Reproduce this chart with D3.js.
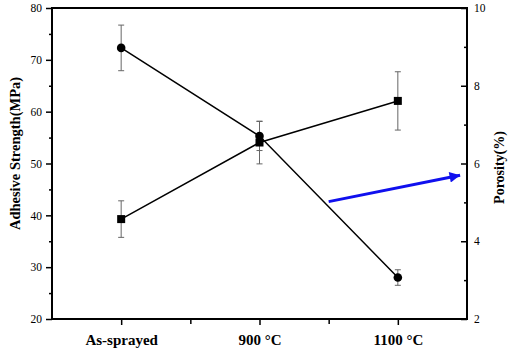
<!DOCTYPE html>
<html>
<head>
<meta charset="utf-8">
<script src="https://cdn.jsdelivr.net/npm/d3@7"></script>
<style>
  body { margin: 0; background: #fff; }
  svg text { font-family: "Liberation Serif", "Times New Roman", serif; }
</style>
</head>
<body>
<svg id="chart"></svg>
<script>
let categories = ["As-sprayed", "900 \u00B0C", "1100 \u00B0C"];

// adhesive strength (left axis), circles
let strength = [72.3, 55.3, 28.0];
let strengthErr = [4.4, 2.8, 1.5];

// porosity (right axis), squares
let porosity = [4.57, 6.54, 7.61];
let porosityErr = [0.47, 0.55, 0.75];

let leftTicks = [20, 30, 40, 50, 60, 70, 80];
let rightTicks = [2, 4, 6, 8, 10];

// blue annotation arrow, in data units (category index, porosity)
let arrowFrom = [1.5, 5.02];
let arrowTo = [2.45, 5.70];

function makeChart() {
    let w = 510;
    let h = 354;
    let m = {left: 52, right: 467, top: 8, bottom: 319};

    let svg = d3.select("#chart")
        .attr("width", w)
        .attr("height", h);

    let xScale = d3.scaleLinear()
        .domain([-0.5, 2.5])
        .range([m.left, m.right]);

    let yLeft = d3.scaleLinear()
        .domain([20, 80])
        .range([m.bottom, m.top]);

    let yRight = d3.scaleLinear()
        .domain([2, 10])
        .range([m.bottom, m.top]);

    // left axis minor + major
    svg.append("g")
        .attr("transform", `translate(${m.left},0)`)
        .call(d3.axisLeft(yLeft).tickValues(d3.range(25, 80, 10)).tickSize(3).tickFormat(""))
        .call(g => g.select(".domain").remove())
        .selectAll("line").attr("stroke-width", 1.5);
    let leftAxis = svg.append("g")
        .attr("transform", `translate(${m.left},0)`)
        .call(d3.axisLeft(yLeft).tickValues(leftTicks).tickSize(6).tickSizeOuter(0).tickPadding(4));
    leftAxis.selectAll("line").attr("stroke-width", 1.5);
    leftAxis.selectAll("text").attr("font-size", 11.5).attr("fill", "#000");

    // right axis (ticks inward)
    svg.append("g")
        .attr("transform", `translate(${m.right},0)`)
        .call(d3.axisLeft(yRight).tickValues(d3.range(3, 10, 2)).tickSize(3).tickFormat(""))
        .call(g => g.select(".domain").remove())
        .selectAll("line").attr("stroke-width", 1.5);
    let rightAxis = svg.append("g")
        .attr("transform", `translate(${m.right},0)`)
        .call(d3.axisLeft(yRight).tickValues(rightTicks).tickSize(6).tickSizeOuter(0).tickFormat(""))
        .call(g => g.select(".domain").remove());
    rightAxis.selectAll("line").attr("stroke-width", 1.5);
    svg.append("g")
        .selectAll("text")
        .data(rightTicks)
        .join("text")
        .attr("x", m.right + 7)
        .attr("y", d => yRight(d))
        .attr("dy", "0.35em")
        .attr("font-size", 11.5)
        .text(d => d);

    // bottom axis
    svg.append("g")
        .attr("transform", `translate(0,${m.bottom})`)
        .call(d3.axisBottom(xScale).tickValues([0.5, 1.5]).tickSize(5).tickFormat(""))
        .call(g => g.select(".domain").remove())
        .selectAll("line").attr("stroke-width", 1.5);
    let xAxis = svg.append("g")
        .attr("transform", `translate(0,${m.bottom})`)
        .call(d3.axisBottom(xScale).tickValues([0, 1, 2]).tickSize(6).tickSizeOuter(0)
            .tickFormat(i => categories[i]).tickPadding(9));
    xAxis.select(".domain").remove();
    xAxis.selectAll("line").attr("stroke-width", 1.5);
    xAxis.selectAll("text").attr("font-size", 15).attr("font-weight", "bold").attr("fill", "#000");

    // frame
    svg.append("rect")
        .attr("x", m.left)
        .attr("y", m.top)
        .attr("width", m.right - m.left)
        .attr("height", m.bottom - m.top)
        .attr("fill", "none")
        .attr("stroke", "#000")
        .attr("stroke-width", 2);

    // axis titles
    svg.append("text")
        .attr("transform", `translate(20,${(m.top + m.bottom) / 2 - 10}) rotate(-90)`)
        .attr("text-anchor", "middle")
        .attr("font-size", 14.5)
        .attr("font-weight", "bold")
        .text("Adhesive Strength(MPa)");
    svg.append("text")
        .attr("transform", `translate(504,${(m.top + m.bottom) / 2 + 4}) rotate(-90)`)
        .attr("text-anchor", "middle")
        .attr("font-size", 14)
        .attr("font-weight", "bold")
        .text("Porosity(%)");

    let plot = svg.append("g");

    function errorBars(vals, errs, y) {
        let g = plot.append("g").attr("stroke", "#666").attr("stroke-width", 1);
        vals.forEach((v, i) => {
            let x = xScale(i);
            g.append("line").attr("x1", x).attr("x2", x).attr("y1", y(v - errs[i])).attr("y2", y(v + errs[i]));
            g.append("line").attr("x1", x - 3).attr("x2", x + 3).attr("y1", y(v - errs[i])).attr("y2", y(v - errs[i]));
            g.append("line").attr("x1", x - 3).attr("x2", x + 3).attr("y1", y(v + errs[i])).attr("y2", y(v + errs[i]));
        });
    }
    errorBars(strength, strengthErr, yLeft);
    errorBars(porosity, porosityErr, yRight);

    let line = y => d3.line().x((d, i) => xScale(i)).y(d => y(d));

    plot.append("path")
        .datum(strength)
        .attr("d", line(yLeft))
        .attr("fill", "none")
        .attr("stroke", "#000")
        .attr("stroke-width", 1.5);
    plot.append("path")
        .datum(porosity)
        .attr("d", line(yRight))
        .attr("fill", "none")
        .attr("stroke", "#000")
        .attr("stroke-width", 1.5);

    plot.selectAll("circle")
        .data(strength)
        .join("circle")
        .attr("cx", (d, i) => xScale(i))
        .attr("cy", d => yLeft(d))
        .attr("r", 4.3)
        .attr("fill", "#000");

    plot.selectAll("rect.sq")
        .data(porosity)
        .join("rect")
        .attr("class", "sq")
        .attr("x", (d, i) => xScale(i) - 4)
        .attr("y", d => yRight(d) - 4)
        .attr("width", 8)
        .attr("height", 8)
        .attr("fill", "#000");

    // blue arrow
    svg.append("defs").append("marker")
        .attr("id", "head")
        .attr("viewBox", "0 0 10 10")
        .attr("refX", 10)
        .attr("refY", 5)
        .attr("markerWidth", 5.5)
        .attr("markerHeight", 3.5)
        .attr("markerUnits", "strokeWidth")
        .attr("orient", "auto")
        .append("path")
        .attr("d", "M0,0 L10,5 L0,10 z")
        .attr("fill", "#1010ee");

    plot.append("line")
        .attr("x1", xScale(arrowFrom[0]))
        .attr("y1", yRight(arrowFrom[1]))
        .attr("x2", xScale(arrowTo[0]))
        .attr("y2", yRight(arrowTo[1]))
        .attr("stroke", "#1010ee")
        .attr("stroke-width", 3)
        .attr("marker-end", "url(#head)");
}

window.onload = function() {
    makeChart();
}
</script>
</body>
</html>
